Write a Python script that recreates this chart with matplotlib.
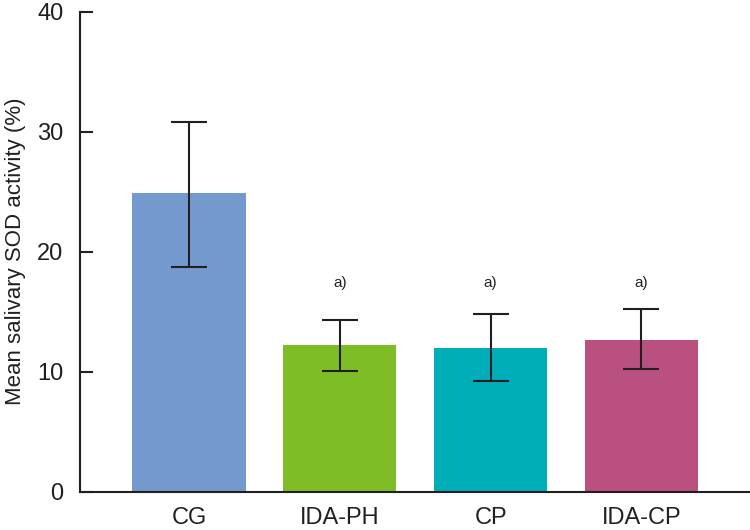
import matplotlib
matplotlib.use('Agg')
import matplotlib.pyplot as plt
import numpy as np

# data
groups = ['CG', 'IDA-PH', 'CP', 'IDA-CP']
means = [24.9, 12.2, 11.95, 12.65]
err_low = [6.15, 2.1, 2.75, 2.45]
err_high = [5.95, 2.1, 2.85, 2.55]
colors = ['#7399CF', '#7FBD26', '#00AEB9', '#B9507F']
marks = ['', 'a)', 'a)', 'a)']
mark_y = 17.4

plt.rcParams['font.family'] = ['Liberation Sans', 'DejaVu Sans']

fig = plt.figure(figsize=(7.5, 5.3), dpi=100)
ax = fig.add_axes([80/750, 1-491.7/530, 670/750, 480/530])

x = np.arange(len(groups))
ax.bar(x, means, width=0.75, color=colors)
ax.errorbar(x, means, yerr=[err_low, err_high], fmt='none', ecolor='#231F20',
            elinewidth=1.5, capsize=13, capthick=1.5)

for xi, m in zip(x, marks):
    if m:
        ax.text(xi, mark_y, m, ha='center', va='center', fontsize=11, color='#231F20')

ax.set_xlim(-0.723, 3.72)
ax.set_ylim(0, 40)
ax.set_yticks([0, 10, 20, 30, 40])
ax.set_xticks(x)
ax.set_xticklabels(groups)

for s in ['top', 'right']:
    ax.spines[s].set_visible(False)
for s in ['left', 'bottom']:
    ax.spines[s].set_linewidth(1.5)
    ax.spines[s].set_color('#231F20')

ax.tick_params(axis='y', direction='in', length=9, width=1.5, color='#231F20',
               labelsize=17, pad=12, labelcolor='#231F20')
ax.tick_params(axis='x', length=0, labelsize=17, pad=11, labelcolor='#231F20')

ax.set_ylabel('Mean salivary SOD activity (%)', fontsize=16, color='#231F20')
ax.yaxis.set_label_coords(-0.08, 0.5)

fig.savefig('out.png', dpi=100)
